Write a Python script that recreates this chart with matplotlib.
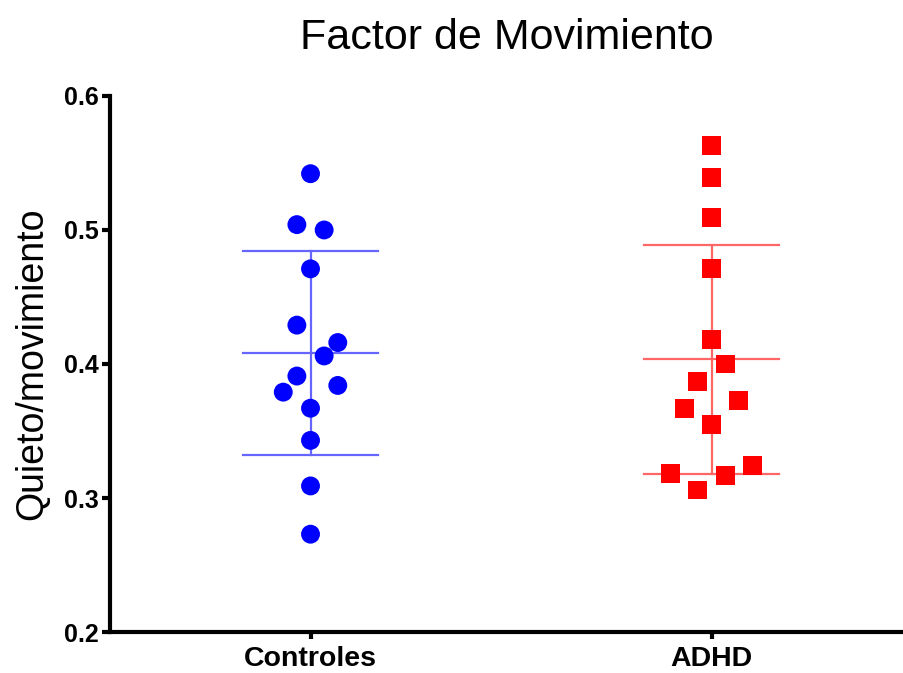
import numpy as np
import matplotlib
matplotlib.use("Agg")
import matplotlib.pyplot as plt

plt.rcParams['font.family'] = ['Liberation Sans', 'DejaVu Sans']

# data
groups = ["Controles", "ADHD"]
controles = [0.542, 0.504, 0.500, 0.471, 0.429, 0.416, 0.406, 0.391, 0.384, 0.379, 0.367, 0.343, 0.309, 0.273]
controles_off = [0, -1, 1, 0, -1, 2, 1, -1, 2, -2, 0, 0, 0, 0]
adhd = [0.563, 0.539, 0.509, 0.471, 0.418, 0.400, 0.387, 0.367, 0.373, 0.355, 0.318, 0.306, 0.317, 0.324]
adhd_off = [0, 0, 0, 0, 0, 1, -1, -2, 2, 0, -3, -1, 1, 3]
yticks = [0.2, 0.3, 0.4, 0.5, 0.6]

fig = plt.figure(figsize=(9.04, 6.73), dpi=100)
ax = fig.add_axes([0.1217, 0.0609, 0.8783, 0.7965])

step = 0.034   # horizontal spread of points
hw = 0.168     # half width of mean / sd lines

series = [(controles, controles_off, 'o', '#0000ff', '#6666ff'),
          (adhd, adhd_off, 's', '#ff0000', '#ff6666')]

for i, (vals, offs, mk, col, lcol) in enumerate(series):
    vals = np.array(vals)
    m = vals.mean()
    sd = vals.std(ddof=1)
    for y in (m - sd, m, m + sd):
        ax.plot([i - hw, i + hw], [y, y], color=lcol, lw=1.6, zorder=2)
    ax.plot([i, i], [m - sd, m + sd], color=lcol, lw=1.6, zorder=2)
    xs = i + np.array(offs) * step
    ax.scatter(xs, vals, s=185, marker=mk, color=col, edgecolors='none', zorder=3)

ax.set_xlim(-0.5, 1.48)
ax.set_ylim(0.2, 0.6)
ax.set_xticks([0, 1])
ax.set_xticklabels(groups, fontsize=20.5, fontweight='bold')
ax.set_yticks(yticks)
ax.set_yticklabels([f"{t:.1f}" for t in yticks], fontsize=18, fontweight='bold')

for s in ['top', 'right']:
    ax.spines[s].set_visible(False)
for s in ['left', 'bottom']:
    ax.spines[s].set_linewidth(3)
ax.tick_params(axis='y', length=6, width=3, pad=2)
ax.tick_params(axis='x', length=5, width=3, pad=5)

ax.set_ylabel("Quieto/movimiento", fontsize=27, labelpad=10)
ax.set_title("Factor de Movimiento", fontsize=31, pad=34)

fig.savefig("out.png", dpi=100)
